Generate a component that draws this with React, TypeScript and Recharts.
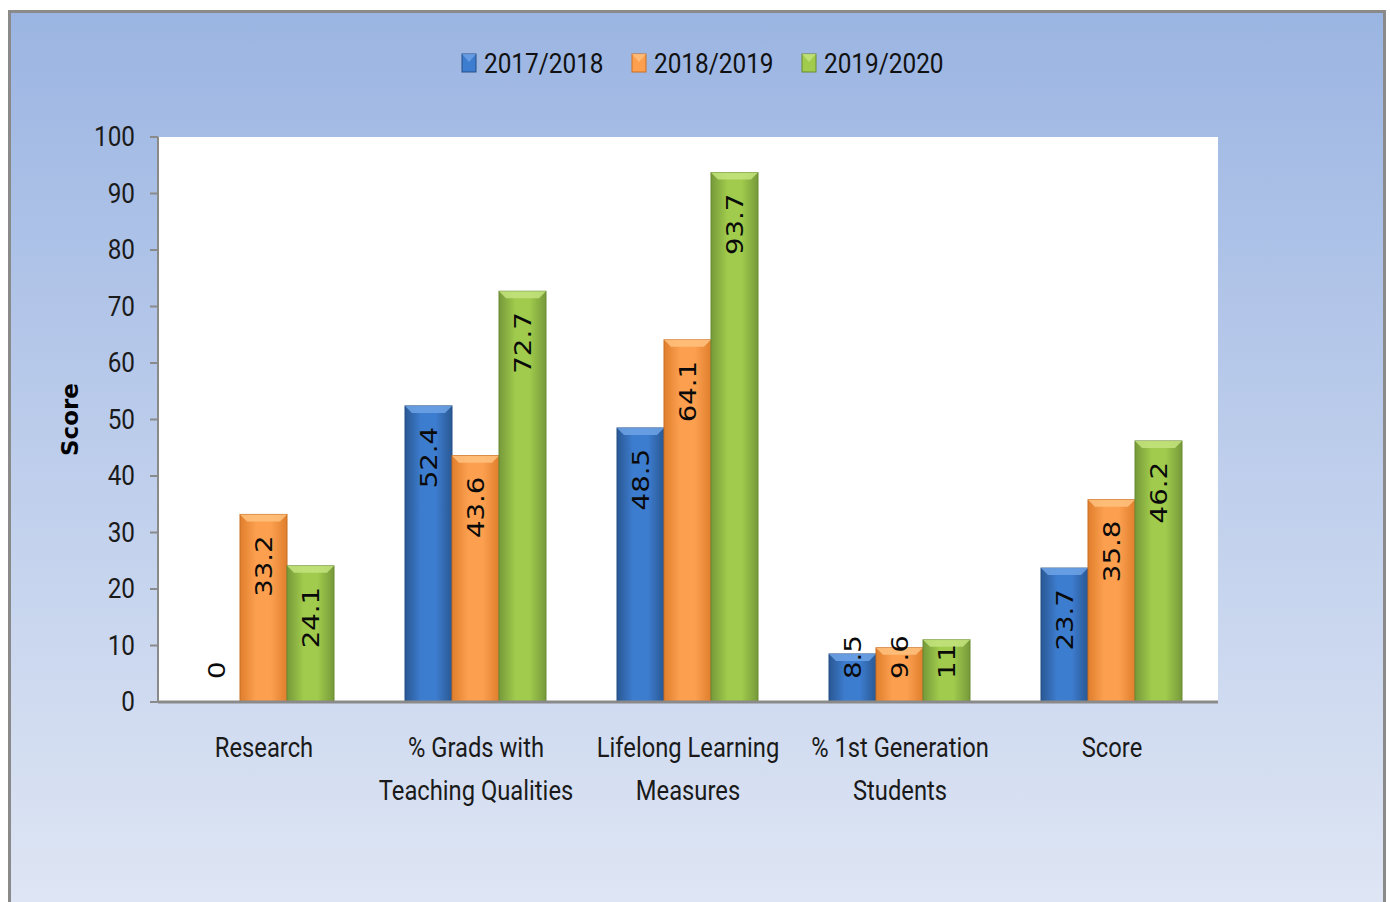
import React from "react";
import { BarChart, Bar, XAxis, YAxis, CartesianGrid, Legend, LabelList, Label } from "recharts";

const categories = [
  "Research",
  "% Grads with\nTeaching Qualities",
  "Lifelong Learning\nMeasures",
  "% 1st Generation\nStudents",
  "Score",
];
const s2017 = [0, 52.4, 48.5, 8.5, 23.7];
const s2018 = [33.2, 43.6, 64.1, 9.6, 35.8];
const s2020 = [24.1, 72.7, 93.7, 11, 46.2];
const yTicks = [0, 10, 20, 30, 40, 50, 60, 70, 80, 90, 100];
const seriesNames = ["2017/2018", "2018/2019", "2019/2020"];

const data = categories.map((c, i) => ({
  cat: c,
  a: s2017[i],
  b: s2018[i],
  c: s2020[i],
}));

const FONT = "Roboto, sans-serif";
const LABEL_FONT = "'DejaVu Sans', Verdana, sans-serif";

const palettes = [
  { id: "gBlue", edge: "#2A5893", mid: "#3D7DD0", light: "#6FA3E6", stroke: "#244E86" },
  { id: "gOrange", edge: "#E07F2E", mid: "#FCA04F", light: "#FFC27F", stroke: "#C96F22" },
  { id: "gGreen", edge: "#76993A", mid: "#A0CB4C", light: "#C4E47E", stroke: "#6A8A33" },
];

// condensed text: scaled horizontally around its anchor point
const CText = ({ x, y, sx, anchor, size, children, fill = "#1a1a1a" }: any) => (
  <g transform={`translate(${x} ${y}) scale(${sx} 1)`}>
    <text x={0} y={0} textAnchor={anchor} dominantBaseline="central" fontFamily={FONT} fontSize={size} fill={fill}>
      {children}
    </text>
  </g>
);

const BevelBar = (props: any) => {
  const { x, y, width, height, pal } = props;
  if (!height || height <= 0) return null;
  const b = Math.min(7, height / 2);
  return (
    <g>
      <rect x={x} y={y} width={width} height={height} fill={`url(#${pal.id})`} stroke={pal.stroke} strokeWidth={1} />
      <polygon
        points={`${x},${y} ${x + width},${y} ${x + width - b},${y + b} ${x + b},${y + b}`}
        fill={pal.light}
        opacity={0.85}
      />
    </g>
  );
};

const makeLabel = () => (props: any) => {
  const { x, y, width, height, value } = props;
  const txt = String(value);
  const cx = x + width / 2;
  const len = txt.length * 17;
  const base = y + height;
  const top = height >= 20 + len + 14;
  const ay = top ? y + 21 : base - 23;
  return (
    <g transform={`translate(${cx} ${ay}) rotate(-90) scale(1.2 1)`}>
      <text
        x={0}
        y={0}
        textAnchor={top ? "end" : "start"}
        dominantBaseline="central"
        fontFamily={LABEL_FONT}
        fontSize={23}
        fill="#0a0a0a"
      >
        {txt}
      </text>
    </g>
  );
};

const CatTick = (props: any) => {
  const { x, y, payload } = props;
  const lines = String(payload.value).split("\n");
  return (
    <g>
      {lines.map((l, i) => (
        <CText key={i} x={x} y={y + 37 + i * 43} sx={0.88} anchor="middle" size={27}>
          {l}
        </CText>
      ))}
    </g>
  );
};

const YTick = (props: any) => {
  const { x, y, payload } = props;
  return (
    <CText x={x} y={y} sx={0.9} anchor="end" size={27}>
      {payload.value}
    </CText>
  );
};

const LegendContent = () => {
  const starts = [462, 632, 802];
  return (
    <svg width={1390} height={40} style={{ display: "block" }}>
      {seriesNames.map((n, i) => (
        <g key={n}>
          <rect x={starts[i]} y={11} width={14} height={18} fill={palettes[i].mid} stroke={palettes[i].stroke} />
          <polygon
            points={`${starts[i]},${11} ${starts[i] + 14},${11} ${starts[i] + 7},${19}`}
            fill={palettes[i].light}
            opacity={0.8}
          />
          <CText x={starts[i] + 22} y={20} sx={0.87} anchor="start" size={28} fill="#111">
            {n}
          </CText>
        </g>
      ))}
    </svg>
  );
};

export default function App() {
  return (
    <div style={{ position: "relative", width: 1390, height: 902, overflow: "hidden", background: "#fff" }}>
      <style>{`body{margin:0}`}</style>
      <div
        style={{
          position: "absolute",
          left: 8,
          top: 10,
          width: 1372,
          height: 900,
          borderLeft: "3px solid #8a8a8a",
          borderTop: "3px solid #8a8a8a",
          borderRight: "3px solid #8a8a8a",
          background: "linear-gradient(to bottom, #9BB5E2 0%, #B7C9EA 40%, #DFE6F4 100%)",
        }}
      />
      <div style={{ position: "absolute", left: 0, top: 0 }}>
        <BarChart
          width={1390}
          height={902}
          data={data}
          margin={{ top: 137, right: 172, bottom: 100, left: 0 }}
          barCategoryGap={35}
          barGap={0}
        >
          <defs>
            {palettes.map((p) => (
              <linearGradient key={p.id} id={p.id} x1="0" y1="0" x2="1" y2="0">
                <stop offset="0%" stopColor={p.edge} />
                <stop offset="35%" stopColor={p.mid} />
                <stop offset="65%" stopColor={p.mid} />
                <stop offset="100%" stopColor={p.edge} />
              </linearGradient>
            ))}
          </defs>
          <CartesianGrid fill="#ffffff" horizontal={false} vertical={false} />
          <XAxis
            dataKey="cat"
            tick={<CatTick />}
            tickLine={false}
            axisLine={{ stroke: "#8a8a8a", strokeWidth: 3 }}
            height={100}
            interval={0}
          />
          <YAxis
            width={158}
            domain={[0, 100]}
            ticks={yTicks}
            interval={0}
            tickSize={8}
            tickMargin={15}
            axisLine={{ stroke: "#8a8a8a", strokeWidth: 2 }}
            tickLine={{ stroke: "#8a8a8a", strokeWidth: 2 }}
            tick={<YTick />}
          >
            <Label
              content={(p: any) => {
                const vb = p.viewBox;
                const cy = vb.y + vb.height / 2;
                return (
                  <text
                    x={70}
                    y={cy}
                    transform={`rotate(-90 70 ${cy})`}
                    textAnchor="middle"
                    dominantBaseline="central"
                    fontFamily="'DejaVu Sans', sans-serif"
                    fontWeight="bold"
                    fontSize={23}
                    fill="#000"
                  >
                    Score
                  </text>
                );
              }}
            />
          </YAxis>
          <Legend
            verticalAlign="middle"
            layout="horizontal"
            content={<LegendContent />}
            wrapperStyle={{ top: 43, left: 0, width: 1390, height: 40 }}
          />
          <Bar dataKey="a" name={seriesNames[0]} isAnimationActive={false} shape={(p: any) => <BevelBar {...p} pal={palettes[0]} />}>
            <LabelList dataKey="a" content={makeLabel()} />
          </Bar>
          <Bar dataKey="b" name={seriesNames[1]} isAnimationActive={false} shape={(p: any) => <BevelBar {...p} pal={palettes[1]} />}>
            <LabelList dataKey="b" content={makeLabel()} />
          </Bar>
          <Bar dataKey="c" name={seriesNames[2]} isAnimationActive={false} shape={(p: any) => <BevelBar {...p} pal={palettes[2]} />}>
            <LabelList dataKey="c" content={makeLabel()} />
          </Bar>
        </BarChart>
      </div>
    </div>
  );
}
